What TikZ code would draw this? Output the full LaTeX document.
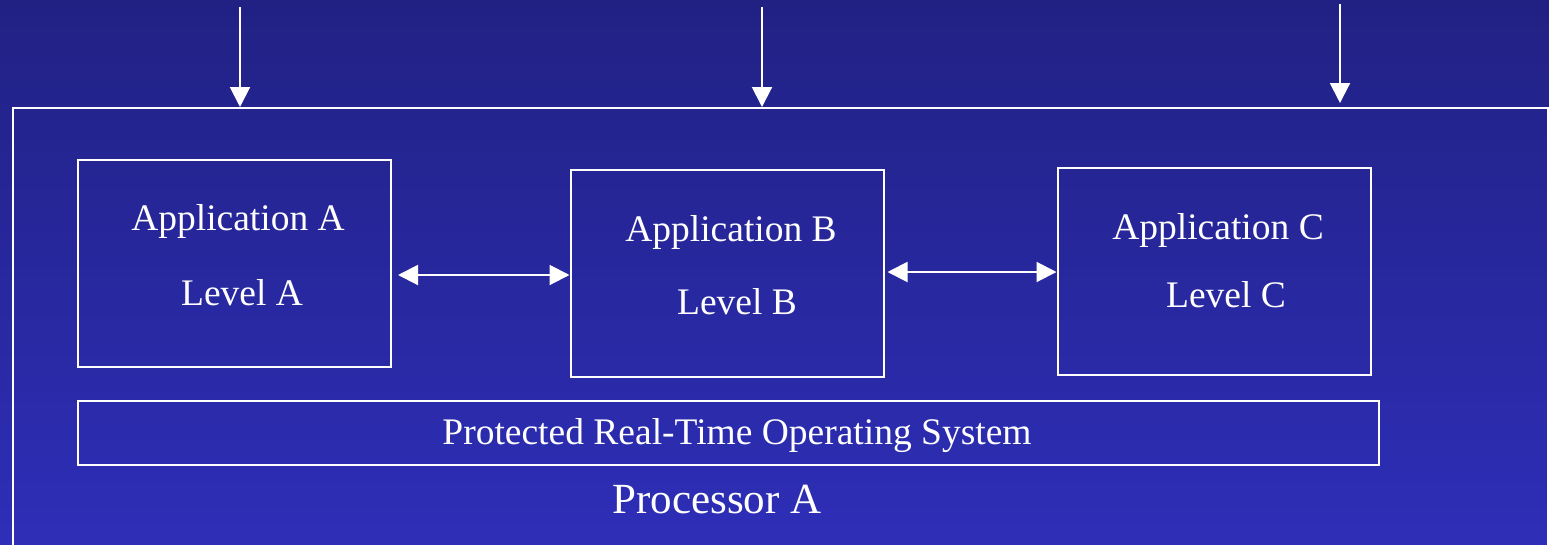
\documentclass[tikz,border=0pt]{standalone}
\usepackage{fontspec}
\setmainfont{Liberation Serif}
\usetikzlibrary{arrows.meta,calc}
\definecolor{bgtop}{RGB}{33,33,132}
\definecolor{bgbot}{RGB}{46,46,184}
\tikzset{
  appbox/.style={draw=white,line width=2pt,minimum width=313pt,minimum height=207pt,inner sep=0pt},
  lbl/.style={text=white,font=\fontsize{37.5}{40}\selectfont,anchor=base,inner sep=0pt},
  arr/.style={draw=white,line width=2pt,-{Triangle[length=20pt,width=20pt]}},
  dbl/.style={draw=white,line width=2pt,{Triangle[length=20pt,width=20pt]}-{Triangle[length=20pt,width=20pt]}}
}
\begin{document}
\begin{tikzpicture}[x=1pt,y=-1pt]
\useasboundingbox (0,0) rectangle (1549,544);
\shade[top color=bgtop,bottom color=bgbot] (0,0) rectangle (1549,544);
\clip (0,0) rectangle (1549,544);
% outer processor box
\node[draw=white,line width=2pt,minimum width=1535pt,minimum height=460pt,inner sep=0pt,anchor=north west] (proc) at (12,107) {};
% application boxes
\node[appbox] (boxA) at (234.5,263.5) {};
\node[appbox] (boxB) at (727,273) {};
\node[appbox] (boxC) at (1214,271) {};
% OS box
\node[draw=white,line width=2pt,minimum width=1301pt,minimum height=64pt,inner sep=0pt] (os) at (728.5,433) {};
% texts
\node[lbl] (tA1) at (238,230) {Application A};
\node[lbl] (tA2) at (242,305) {Level A};
\node[lbl] (tB1) at (731,241) {Application B};
\node[lbl] (tB2) at (737,314) {Level B};
\node[lbl] (tC1) at (1218,239) {Application C};
\node[lbl] (tC2) at (1226,307) {Level C};
\node[lbl] (tos) at (737,444) {Protected Real-Time Operating System};
\node[lbl,font=\fontsize{43}{46}\selectfont] (tproc) at (717,513) {Processor A};
% top arrows
\coordinate (s1) at (240,7);
\coordinate (s2) at (762,7);
\coordinate (s3) at (1340,4);
\draw[arr] (s1) -- (s1 |- proc.north);
\draw[arr] (s2) -- (s2 |- proc.north);
\draw[arr] (s3) -- ([yshift=4pt]s3 |- proc.north);
% double arrows
\draw[dbl] ([xshift=6pt]boxA.east |- 0,275) -- (boxB.west |- 0,275);
\draw[dbl] ([xshift=3pt]boxB.east |- 0,272) -- (boxC.west |- 0,272);
\end{tikzpicture}
\end{document}
